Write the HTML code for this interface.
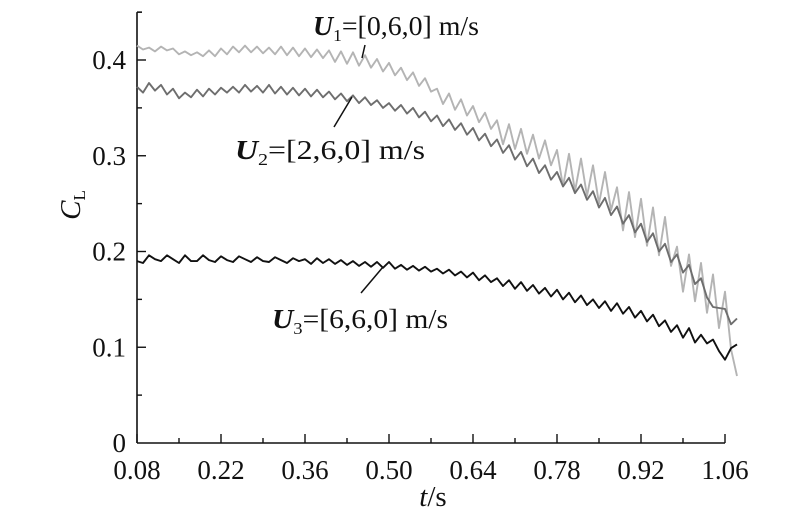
<!DOCTYPE html>
<html><head><meta charset="utf-8"><style>
html,body{margin:0;padding:0;background:#fff;}
svg{display:block;font-family:"Liberation Serif",serif;}
</style></head><body>
<svg id="chart" width="800" height="519" viewBox="0 0 800 519" xmlns="http://www.w3.org/2000/svg">
<g id="axes"></g>
<g id="series"></g>
<g font-size="27" fill="#111">
  <text x="313" y="35" textLength="166" lengthAdjust="spacingAndGlyphs"><tspan font-weight="bold" font-style="italic">U</tspan><tspan font-size="17" dy="6">1</tspan><tspan dy="-6">=[0,6,0] m/s</tspan></text>
  <line x1="365" y1="45" x2="362" y2="58" stroke="#111" stroke-width="1.5"/>
  <text x="235" y="159" textLength="190" lengthAdjust="spacingAndGlyphs"><tspan font-weight="bold" font-style="italic">U</tspan><tspan font-size="17" dy="6">2</tspan><tspan dy="-6">=[2,6,0] m/s</tspan></text>
  <line x1="352" y1="97" x2="334" y2="127" stroke="#111" stroke-width="1.5"/>
  <text x="272" y="328" textLength="176" lengthAdjust="spacingAndGlyphs"><tspan font-weight="bold" font-style="italic">U</tspan><tspan font-size="17" dy="6">3</tspan><tspan dy="-6">=[6,6,0] m/s</tspan></text>
  <line x1="383" y1="267" x2="361" y2="293" stroke="#111" stroke-width="1.5"/>
</g>
<text transform="translate(80,205) rotate(-90)" text-anchor="middle" font-size="29" fill="#111"><tspan font-style="italic">C</tspan><tspan font-size="17" dy="5">L</tspan></text>
<text x="433" y="506" text-anchor="middle" font-size="29" fill="#111"><tspan font-style="italic">t</tspan>/s</text>
</svg>
<script>
const xTicks = [0.08,0.22,0.36,0.50,0.64,0.78,0.92,1.06];
const xTickLabels = ["0.08","0.22","0.36","0.50","0.64","0.78","0.92","1.06"];
const yTicks = [0,0.1,0.2,0.3,0.4];
const yTickLabels = ["0","0.1","0.2","0.3","0.4"];
const tStart = 0.08;
const tStep = 0.01;
const u1 = [0.415,0.411,0.413,0.409,0.414,0.410,0.412,0.406,0.409,0.405,0.408,0.404,0.410,0.404,0.412,0.406,0.414,0.408,0.415,0.408,0.414,0.407,0.413,0.406,0.414,0.405,0.413,0.404,0.412,0.403,0.411,0.402,
0.410,0.398,0.409,0.396,0.408,0.394,0.405,0.392,
0.401,0.388,0.397,0.384,0.392,0.379,0.387,0.373,0.381,0.367,
0.370,0.354,0.365,0.348,0.359,0.342,0.352,0.335,0.345,0.328,
0.337,0.312,0.333,0.307,0.328,0.302,0.322,0.297,0.316,0.290,
0.306,0.268,0.302,0.263,0.297,0.258,0.290,0.250,0.283,0.243,
0.267,0.222,0.262,0.215,0.255,0.206,0.246,0.196,0.236,0.185,
0.205,0.158,0.197,0.148,0.188,0.136,0.176,0.120,0.158,0.098,0.070];
const u2 = [0.372,0.366,0.376,0.368,0.374,0.364,0.370,0.360,0.366,0.361,0.369,0.362,0.370,0.364,0.371,0.366,0.372,0.366,0.374,0.367,0.373,0.366,0.374,0.365,0.372,0.364,0.371,0.363,0.370,0.362,0.369,0.361,
0.367,0.359,0.365,0.357,0.363,0.355,0.361,0.353,
0.358,0.350,0.355,0.347,0.353,0.344,0.350,0.340,0.346,0.336,
0.342,0.331,0.338,0.327,0.334,0.322,0.329,0.316,0.323,0.310,
0.317,0.303,0.311,0.296,0.304,0.289,0.297,0.282,0.290,0.275,
0.283,0.268,0.277,0.261,0.270,0.254,0.263,0.246,0.256,0.238,
0.247,0.229,0.238,0.220,0.229,0.210,0.219,0.200,0.208,0.189,
0.197,0.178,0.186,0.166,0.172,0.152,0.142,0.141,0.140,0.124,0.130];
const u3 = [0.190,0.188,0.196,0.192,0.190,0.196,0.192,0.188,0.196,0.190,0.190,0.196,0.191,0.189,0.195,0.191,0.189,0.195,0.192,0.189,0.194,0.190,0.189,0.194,0.191,0.188,0.193,0.190,0.192,0.187,0.193,0.188,
0.192,0.187,0.191,0.186,0.190,0.185,0.189,0.184,
0.189,0.183,0.189,0.182,0.186,0.181,0.185,0.180,0.184,0.179,
0.182,0.177,0.181,0.175,0.179,0.173,0.178,0.170,0.175,0.168,
0.172,0.164,0.170,0.161,0.168,0.159,0.165,0.156,0.162,0.153,
0.160,0.150,0.157,0.147,0.154,0.144,0.150,0.141,0.148,0.138,
0.146,0.135,0.142,0.131,0.138,0.127,0.134,0.122,0.128,0.116,
0.123,0.110,0.120,0.105,0.113,0.104,0.108,0.096,0.087,0.099,0.103];

const NS='http://www.w3.org/2000/svg';
const X0=137, X1=725, T0=0.08, T1=1.06;
const Y0=443, Y1=60, V0=0, V1=0.4;
function xs(t){return X0+(t-T0)/(T1-T0)*(X1-X0);}
function ys(v){return Y0+(v-V0)/(V1-V0)*(Y1-Y0);}
function mk(tag,attrs,parent){const e=document.createElementNS(NS,tag);for(const k in attrs)e.setAttribute(k,attrs[k]);parent.appendChild(e);return e;}
const axes=document.getElementById('axes');
let yl=mk('line',{x1:X0,y1:ys(0.45),x2:X0,y2:Y0,stroke:'#111','stroke-width':1.6},axes);


let cap=mk('line',{x1:X0,y1:ys(0.45),x2:X0+5,y2:ys(0.45),stroke:'#111','stroke-width':1.4},axes);


let xl=mk('line',{x1:X0,y1:Y0,x2:X1,y2:Y0,stroke:'#111','stroke-width':1.6},axes);


xTicks.forEach((t,i)=>{
  const x=xs(t);
  const tk=mk('line',{x1:x,y1:Y0,x2:x,y2:Y0-9,stroke:'#111','stroke-width':1.4},axes);
  
  
  const lb=mk('text',{x:x,y:Y0+36,'text-anchor':'middle','font-size':27,fill:'#111'},axes);
  lb.textContent=xTickLabels[i];
  
  
  if(i<xTicks.length-1){
    const mx=xs(t+0.07);
    const mt=mk('line',{x1:mx,y1:Y0,x2:mx,y2:Y0-5,stroke:'#111','stroke-width':1.4},axes);
    
    
  }
});
yTicks.forEach((v,i)=>{
  const y=ys(v);
  if(v>0){
    const tk=mk('line',{x1:X0,y1:y,x2:X0+9,y2:y,stroke:'#111','stroke-width':1.4},axes);
    
    
  }
  const lb=mk('text',{x:126,y:y+9,'text-anchor':'end','font-size':27,fill:'#111'},axes);
  lb.textContent=yTickLabels[i];
  
  
  const my=ys(v+0.05);
  const mt=mk('line',{x1:X0,y1:my,x2:X0+5,y2:my,stroke:'#111','stroke-width':1.4},axes);
  
  
});
const sg=document.getElementById('series');
[[u1,'#b4b4b4','series-u1'],[u2,'#6e6e6e','series-u2'],[u3,'#111111','series-u3']].forEach(s=>{
  const pts=s[0].map((v,i)=>xs(tStart+i*tStep).toFixed(1)+','+ys(v).toFixed(1)).join(' ');
  const p=mk('polyline',{points:pts,fill:'none',stroke:s[1],'stroke-width':1.9,'stroke-linejoin':'round'},sg);
  
  
});
</script>
</body></html>
